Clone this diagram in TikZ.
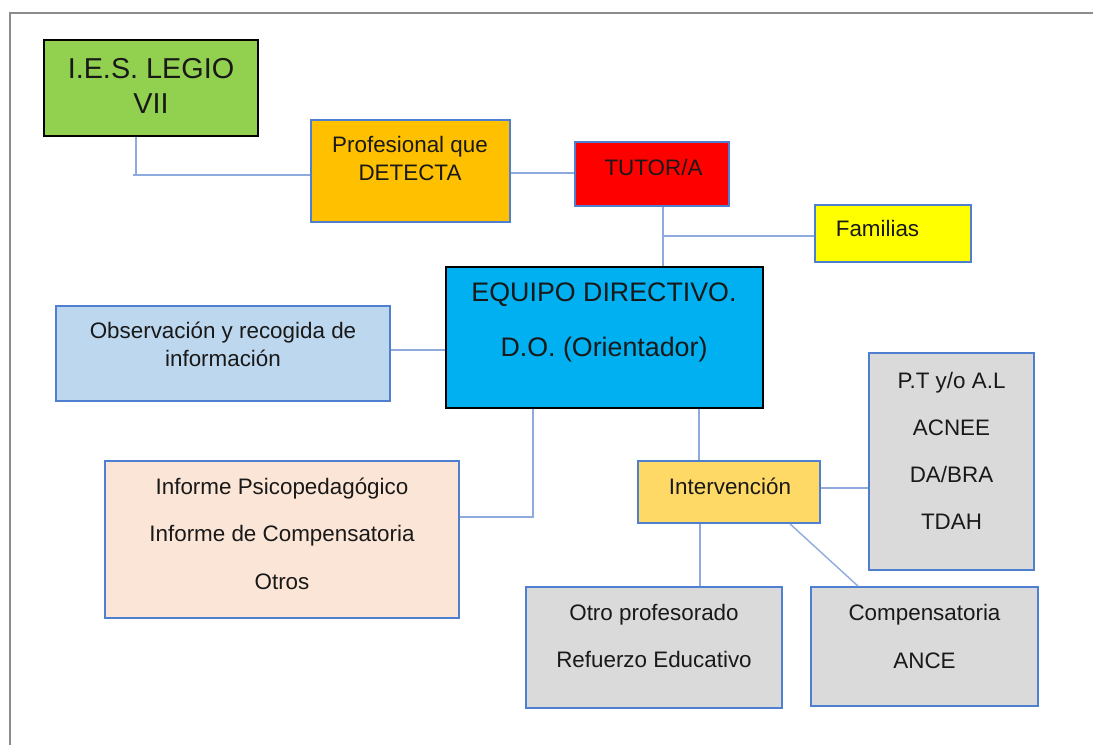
\documentclass[tikz,border=0pt]{standalone}
\usepackage{fontspec}
\setmainfont{Liberation Sans}
\definecolor{cgreen}{HTML}{92D050}
\definecolor{corange}{HTML}{FFC000}
\definecolor{cred}{HTML}{FF0000}
\definecolor{cyellow}{HTML}{FFFF00}
\definecolor{ccyan}{HTML}{00B0F0}
\definecolor{clblue}{HTML}{BDD7EE}
\definecolor{cgray}{HTML}{DADADA}
\definecolor{cinterv}{HTML}{FFD966}
\definecolor{cpeach}{HTML}{FBE5D6}
\definecolor{cborder}{HTML}{4F7FD0}
\definecolor{cconn}{HTML}{8FAADC}
\definecolor{cframe}{HTML}{8C8C8C}
\begin{document}
\begin{tikzpicture}[x=1pt,y=-1pt,
  bx/.style={draw=cborder, line width=1.8pt, rectangle, inner sep=0pt},
  bxk/.style={draw=black, line width=1.5pt, rectangle, inner sep=0pt},
  txt/.style={align=center, inner sep=0pt, text=black!90, font=\fontsize{22.4}{28}\selectfont},
  conn/.style={draw=cconn, line width=1.4pt}]
\useasboundingbox (0,0) rectangle (1093,745);
\draw[cframe, line width=2pt] (10,745) -- (10,13) -- (1093,13);

% boxes
\node[bxk, fill=cgreen, minimum width=214pt, minimum height=96pt] (ies) at (151,88) {};
\node[bx, fill=corange, minimum width=199pt, minimum height=102pt] (prof) at (410.5,171) {};
\node[bx, fill=cred, minimum width=154pt, minimum height=64pt] (tutor) at (652,174) {};
\node[bx, fill=cyellow, minimum width=156pt, minimum height=57pt] (fam) at (893,233.5) {};
\node[bxk, fill=ccyan, minimum width=317pt, minimum height=141pt] (equipo) at (604.5,337.5) {};
\node[bx, fill=clblue, minimum width=334pt, minimum height=95pt] (obs) at (223,353.5) {};
\node[bx, fill=cgray, minimum width=165pt, minimum height=217pt] (pt) at (951.5,461.5) {};
\node[bx, fill=cinterv, minimum width=182pt, minimum height=62pt] (interv) at (729,492) {};
\node[bx, fill=cpeach, minimum width=354pt, minimum height=157pt] (inf) at (282,539.5) {};
\node[bx, fill=cgray, minimum width=256pt, minimum height=121pt] (otro) at (654,647.5) {};
\node[bx, fill=cgray, minimum width=227pt, minimum height=119pt] (comp) at (924.5,646.5) {};

% texts
\node[txt, font=\fontsize{28.8}{35}\selectfont] (iest) at (151,86) {I.E.S. LEGIO\\VII};
\node[txt] (proft) at (410,158) {Profesional que\\DETECTA};
\node[txt] (tutort) at (653.5,167) {TUTOR/A};
\node[txt] (famt) at (877.5,228.5) {Familias};
\node[txt, font=\fontsize{26.8}{55}\selectfont] (equipot) at (604,322) {EQUIPO DIRECTIVO.\\D.O. (Orientador)};
\node[txt] (obst) at (223,344) {Observación y recogida de\\información};
\node[txt, font=\fontsize{22.4}{47}\selectfont] (ptt) at (951.5,450.5) {P.T y/o A.L\\ACNEE\\DA/BRA\\TDAH};
\node[txt] (intervt) at (730,486) {Intervención};
\node[txt, font=\fontsize{22.4}{47.5}\selectfont] (inft) at (282,533.5) {Informe Psicopedagógico\\Informe de Compensatoria\\Otros};
\node[txt, font=\fontsize{22.4}{47}\selectfont] (otrot) at (654,635.5) {Otro profesorado\\Refuerzo Educativo};
\node[txt, font=\fontsize{22.4}{48}\selectfont] (compt) at (924.5,636) {Compensatoria\\ANCE};

% connectors
\coordinate (c1) at (133,175);
\draw[conn] ([xshift=-15pt]ies.south) -- ([xshift=-15pt]ies.south |- c1);
\draw[conn] (c1) -- ([yshift=-4pt]prof.west);
\draw[conn] ([yshift=-2pt]prof.east) -- ([yshift=-2pt]prof.east -| tutor.west);
\draw[conn] ([xshift=11pt]tutor.south) -- ([xshift=11pt]tutor.south |- equipo.north);
\coordinate (fj) at (663,236);
\draw[conn] (fj) -- (fj -| fam.west);
\draw[conn] ([yshift=3.5pt]obs.east) -- ([yshift=3.5pt]obs.east -| equipo.west);
\draw[conn] ([xshift=-71.5pt]equipo.south) |- ([yshift=22.5pt]inf.east);
\draw[conn] ([xshift=94.5pt]equipo.south) -- ([xshift=94.5pt]equipo.south |- interv.north);
\draw[conn] ([yshift=4pt]interv.east) -- ([yshift=4pt]interv.east -| pt.west);
\draw[conn] ([xshift=-29pt]interv.south) -- ([xshift=-29pt]interv.south |- otro.north);
\draw[conn] ([xshift=61pt]interv.south) -- ([xshift=-66.5pt]comp.north);
\end{tikzpicture}
\end{document}
